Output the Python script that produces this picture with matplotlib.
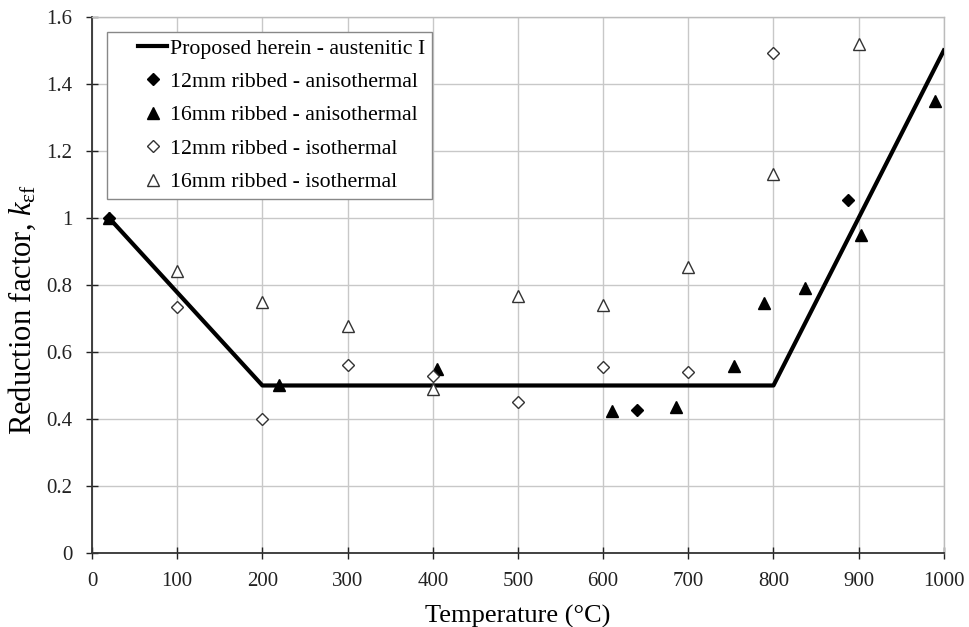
import matplotlib
matplotlib.use("Agg")
import matplotlib.pyplot as plt
from matplotlib.legend_handler import HandlerLine2D

plt.rcParams['font.family'] = ['Liberation Serif', 'DejaVu Serif']
plt.rcParams['mathtext.fontset'] = 'custom'
plt.rcParams['mathtext.rm'] = 'Liberation Serif'
plt.rcParams['mathtext.it'] = 'Liberation Serif:italic'

# Proposed model
prop_T = [20, 200, 800, 1000]
prop_k = [1.0, 0.5, 0.5, 1.5]

# 12mm ribbed - anisothermal
a12_T = [20, 640, 887]
a12_k = [1.0, 0.427, 1.054]

# 16mm ribbed - anisothermal
a16_T = [20, 220, 405, 610, 686, 754, 789, 837, 903, 990]
a16_k = [1.0, 0.50, 0.55, 0.424, 0.436, 0.558, 0.746, 0.79, 0.95, 1.35]

# 12mm ribbed - isothermal
i12_T = [100, 200, 300, 400, 500, 600, 700, 800]
i12_k = [0.735, 0.40, 0.56, 0.528, 0.45, 0.556, 0.54, 1.493]

# 16mm ribbed - isothermal
i16_T = [100, 200, 300, 400, 500, 600, 700, 800, 900]
i16_k = [0.842, 0.75, 0.678, 0.49, 0.767, 0.74, 0.854, 1.13, 1.52]

xticks = list(range(0, 1001, 100))
yticks = [0, 0.2, 0.4, 0.6, 0.8, 1.0, 1.2, 1.4, 1.6]
ytick_labels = ['0', '0.2', '0.4', '0.6', '0.8', '1', '1.2', '1.4', '1.6']


class RightHandler(HandlerLine2D):
    """Draw the legend handle only in the right part of the handle box."""
    def __init__(self, frac=0.53, **kw):
        super().__init__(**kw)
        self.frac = frac

    def create_artists(self, legend, orig_handle, xdescent, ydescent,
                       width, height, fontsize, trans):
        w2 = width * self.frac
        xdescent = xdescent - (width - w2)
        return super().create_artists(legend, orig_handle, xdescent, ydescent,
                                      w2, height, fontsize, trans)


fig = plt.figure(figsize=(9.69, 6.27), dpi=100)
ax = fig.add_axes([0.095, 0.118, 0.879, 0.855])

h0, = ax.plot(prop_T, prop_k, color='black', lw=3, label='Proposed herein - austenitic I', zorder=3)
h1, = ax.plot(a12_T, a12_k, ls='none', marker='D', ms=6, mfc='black', mec='black',
              label='12mm ribbed - anisothermal', zorder=4)
h2, = ax.plot(a16_T, a16_k, ls='none', marker='^', ms=8, mfc='black', mec='black',
              label='16mm ribbed - anisothermal', zorder=4)
h3, = ax.plot(i12_T, i12_k, ls='none', marker='D', ms=6, mfc='white', mec='#333333', mew=1.0,
              label='12mm ribbed - isothermal', zorder=4)
h4, = ax.plot(i16_T, i16_k, ls='none', marker='^', ms=8, mfc='white', mec='#333333', mew=1.0,
              label='16mm ribbed - isothermal', zorder=4)

ax.set_xlim(0, 1000)
ax.set_ylim(0, 1.6)
ax.set_xticks(xticks)
ax.set_yticks(yticks)
ax.set_yticklabels(ytick_labels)
ax.grid(True, color='#c8c8c8', lw=1.0)
ax.set_axisbelow(True)
ax.tick_params(direction='inout', length=8, width=1, labelsize=15, colors='#222222')
ax.tick_params(axis='x', pad=10)
ax.tick_params(axis='y', pad=10)
for s in ['left', 'bottom']:
    ax.spines[s].set_color('#333333')
    ax.spines[s].set_linewidth(1.3)
for s in ['top', 'right']:
    ax.spines[s].set_color('#bbbbbb')
    ax.spines[s].set_linewidth(1.0)

ax.set_xlabel('Temperature (°C)', fontsize=19, labelpad=10)
ax.set_ylabel(r'Reduction factor, $\mathit{k}_{\mathrm{\varepsilon f}}$', fontsize=22, labelpad=10)
ax.yaxis.set_label_coords(-0.064, 0.455)

hm = {h: RightHandler(frac=0.53) for h in [h0, h1, h2, h3, h4]}
leg = ax.legend(handles=[h0, h1, h2, h3, h4], handler_map=hm,
                loc='upper left', bbox_to_anchor=(0.0176, 0.972), borderaxespad=0,
                fontsize=15.7, frameon=True, fancybox=False, edgecolor='#888888',
                framealpha=1, handlelength=2.43, handletextpad=0.18,
                labelspacing=0.6, borderpad=0.3)
leg.get_frame().set_linewidth(1.0)

fig.savefig('out.png', dpi=100)
